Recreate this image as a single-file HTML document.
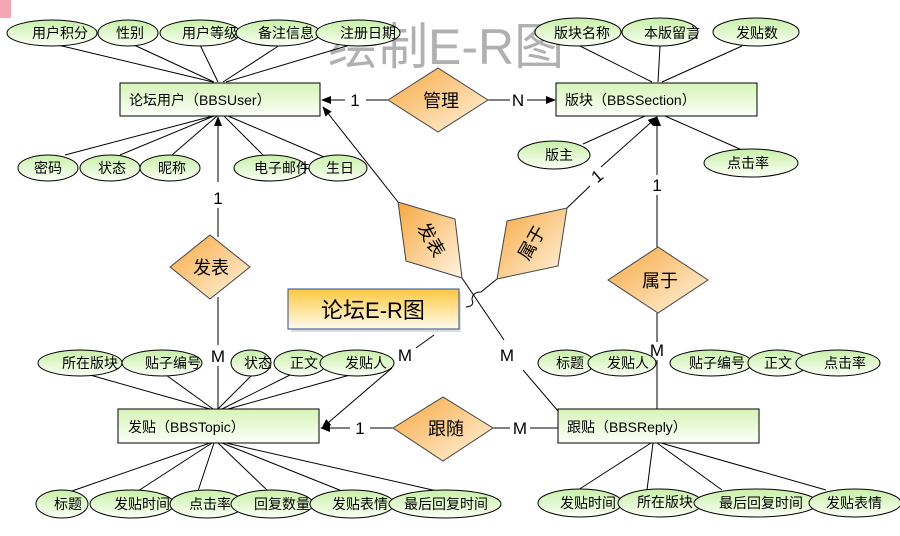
<!DOCTYPE html>
<html><head><meta charset="utf-8"><style>
html,body{margin:0;padding:0;background:#fff;}
svg{display:block;font-family:"Liberation Sans","Noto Sans CJK SC",sans-serif;}
</style></head><body>
<svg width="900" height="536" viewBox="0 0 900 536" xmlns="http://www.w3.org/2000/svg">
<defs>
<linearGradient id="ge" x1="0" y1="0" x2="0" y2="1"><stop offset="0" stop-color="#c8f0a8"/><stop offset="1" stop-color="#fbfff6"/></linearGradient>
<linearGradient id="gr" x1="0" y1="0" x2="0" y2="1"><stop offset="0" stop-color="#d6f4b8"/><stop offset="1" stop-color="#fcfff8"/></linearGradient>
<linearGradient id="gd" x1="0" y1="0" x2="1" y2="1"><stop offset="0" stop-color="#f7a840"/><stop offset="1" stop-color="#fff4e2"/></linearGradient>
<linearGradient id="gt" x1="0" y1="0" x2="0" y2="1"><stop offset="0" stop-color="#fcc840"/><stop offset="1" stop-color="#fffbee"/></linearGradient>
<marker id="ar" markerWidth="10" markerHeight="8" refX="9" refY="4" orient="auto" markerUnits="userSpaceOnUse"><path d="M0,0 L10,4 L0,8 z" fill="#000"/></marker>
</defs>
<rect x="0" y="0" width="11" height="18" fill="#f4a6b4"/>
<text x="328" y="64" font-size="50" fill="#b0b0b0">绘制E-R图</text>

<g stroke="#000" stroke-width="1" fill="none">
<path d="M58,45 L213,82 M134,45 L214,82 M200,45 L218,82 M280,45 L223,82 M350,45 L226,82"/>
<path d="M65,155 L213,116 M120,155 L214,116 M172,155 L217,116 M265,157 L224,116 M324,157 L228,116"/>
<path d="M580,46 L652,82 M660,46 L658,82 M742,46 L662,82"/>
<path d="M583,144 L645,116 M742,150 L665,116"/>
<path d="M90,375 L210,409 M166,375 L213,409 M252,375 L218,409 M290,375 L222,409 M350,375 L228,409"/>
<path d="M72,491 L210,443 M138,491 L212,443 M198,491 L214,443 M268,491 L218,443 M342,491 L222,443 M437,491 L226,443"/>
<path d="M578,490 L651,443 M647,490 L653,443 M722,490 L657,443 M826,490 L661,443"/>
<line x1="388" y1="100" x2="366" y2="100"/><line x1="345" y1="100" x2="322" y2="100" marker-end="url(#ar)"/>
<line x1="488" y1="100" x2="510" y2="100"/><line x1="527" y1="100" x2="555" y2="100" marker-end="url(#ar)"/>
<line x1="218" y1="182" x2="218" y2="117" marker-end="url(#ar)"/>
<line x1="218" y1="208" x2="218" y2="237"/>
<line x1="218" y1="297" x2="218" y2="345"/>
<line x1="218" y1="366" x2="218" y2="409"/>
<line x1="657" y1="175" x2="657" y2="117" marker-end="url(#ar)"/>
<line x1="657" y1="195" x2="657" y2="247"/>
<line x1="657" y1="313" x2="657" y2="342"/>
<line x1="657" y1="360" x2="657" y2="409"/>
<line x1="398" y1="202" x2="323" y2="107" marker-end="url(#ar)"/>
<path d="M462,278 L504,340"/>
<line x1="523" y1="370" x2="558" y2="411"/>
<line x1="567" y1="208" x2="590" y2="186"/>
<line x1="601" y1="167" x2="657" y2="117" marker-end="url(#ar)"/>
<path d="M497,279 L481,292 Q472,292 472,300 Q475,306 466,307"/>
<line x1="434" y1="335" x2="416" y2="348"/>
<line x1="392" y1="368" x2="322" y2="428" marker-end="url(#ar)"/>
<line x1="393" y1="428" x2="370" y2="428"/><line x1="350" y1="428" x2="321" y2="428" marker-end="url(#ar)"/>
<line x1="493" y1="428" x2="510" y2="428"/><line x1="530" y1="428" x2="558" y2="428"/>
</g>

<g font-size="17" text-anchor="middle">
<text x="355" y="106">1</text><text x="518" y="106">N</text>
<text x="218" y="204">1</text><text x="218" y="362">M</text>
<text x="657" y="191">1</text><text x="657" y="356">M</text>
<text x="507" y="361">M</text><text x="405" y="361">M</text>
<text x="360" y="434">1</text><text x="520" y="434">M</text>
<text x="597" y="182" transform="rotate(-40 597 176)">1</text>
</g>

<g stroke="#000" stroke-width="1" fill="url(#gr)">
<rect x="120" y="83" width="200" height="33"/>
<rect x="556" y="83" width="201" height="33"/>
<rect x="118" y="409" width="201" height="34"/>
<rect x="558" y="409" width="201" height="34"/>
</g>
<g font-size="14">
<text x="129" y="105">论坛用户（BBSUser）</text>
<text x="565" y="105">版块（BBSSection）</text>
<text x="128" y="432">发贴（BBSTopic）</text>
<text x="567" y="432">跟贴（BBSReply）</text>
</g>

<g stroke="#444" stroke-width="1" fill="url(#gd)">
<polygon points="388,100 438,68 488,100 438,132"/>
<polygon points="170,267 210,235 250,267 210,299"/>
<polygon points="393,428 443,397 493,428 443,461"/>
<polygon points="608,280 658,247 708,280 658,313"/>
<polygon points="398,202 455,219 462,278 406,261"/>
<polygon points="507,221 567,208 558,266 497,279"/>
</g>
<g font-size="18" text-anchor="middle">
<text x="441" y="107">管理</text>
<text x="211" y="274">发表</text>
<text x="446" y="435">跟随</text>
<text x="660" y="287">属于</text>
<text x="431" y="246" transform="rotate(60 431 240)">发表</text>
<text x="532" y="249" transform="rotate(-60 532 243)">属于</text>
</g>

<rect x="291" y="292" width="170" height="40" fill="#ddd"/>
<rect x="288" y="289" width="171" height="40" fill="url(#gt)" stroke="#2f4f8f" stroke-width="1"/>
<text x="373" y="318" font-size="22" text-anchor="middle">论坛E-R图</text>

<g stroke="#000" stroke-width="1" fill="url(#ge)">
<ellipse cx="52" cy="33" rx="45" ry="13"/>
<ellipse cx="128" cy="33" rx="30" ry="13"/>
<ellipse cx="200" cy="33" rx="40" ry="13"/>
<ellipse cx="278" cy="33" rx="42" ry="13"/>
<ellipse cx="358" cy="33" rx="42" ry="13"/>
<ellipse cx="48" cy="168" rx="30" ry="13"/>
<ellipse cx="110" cy="168" rx="30" ry="13"/>
<ellipse cx="170" cy="168" rx="30" ry="13"/>
<ellipse cx="270" cy="168" rx="36" ry="13"/>
<ellipse cx="338" cy="168" rx="29" ry="13"/>
<ellipse cx="578" cy="32" rx="43" ry="14"/>
<ellipse cx="660" cy="32" rx="38" ry="14"/>
<ellipse cx="756" cy="32" rx="43" ry="14"/>
<ellipse cx="554" cy="155" rx="36" ry="14"/>
<ellipse cx="751" cy="163" rx="47" ry="14"/>
<ellipse cx="80" cy="363" rx="42" ry="13"/>
<ellipse cx="162" cy="363" rx="40" ry="13"/>
<ellipse cx="251" cy="363" rx="20" ry="13"/>
<ellipse cx="300" cy="363" rx="26" ry="13"/>
<ellipse cx="357" cy="363" rx="37" ry="13"/>
<ellipse cx="62" cy="504" rx="26" ry="14"/>
<ellipse cx="132" cy="504" rx="42" ry="14"/>
<ellipse cx="207" cy="504" rx="37" ry="14"/>
<ellipse cx="272" cy="504" rx="41" ry="14"/>
<ellipse cx="352" cy="504" rx="42" ry="14"/>
<ellipse cx="445" cy="504" rx="56" ry="14"/>
<ellipse cx="566" cy="363" rx="28" ry="13"/>
<ellipse cx="622" cy="363" rx="34" ry="13"/>
<ellipse cx="711" cy="363" rx="41" ry="13"/>
<ellipse cx="778" cy="363" rx="30" ry="13"/>
<ellipse cx="838" cy="363" rx="42" ry="13"/>
<ellipse cx="580" cy="503" rx="42" ry="14"/>
<ellipse cx="660" cy="503" rx="42" ry="14"/>
<ellipse cx="756" cy="503" rx="62" ry="14"/>
<ellipse cx="855" cy="503" rx="46" ry="14"/>
</g>
<g font-size="14" text-anchor="middle">
<text x="60" y="38">用户积分</text>
<text x="130" y="38">性别</text>
<text x="210" y="38">用户等级</text>
<text x="286" y="38">备注信息</text>
<text x="368" y="38">注册日期</text>
<text x="48" y="173">密码</text>
<text x="112" y="173">状态</text>
<text x="172" y="173">昵称</text>
<text x="282" y="173">电子邮件</text>
<text x="340" y="173">生日</text>
<text x="582" y="38">版块名称</text>
<text x="672" y="38">本版留言</text>
<text x="757" y="38">发贴数</text>
<text x="559" y="160">版主</text>
<text x="748" y="168">点击率</text>
<text x="90" y="368">所在版块</text>
<text x="173" y="368">贴子编号</text>
<text x="258" y="368">状态</text>
<text x="304" y="368">正文</text>
<text x="366" y="368">发贴人</text>
<text x="68" y="509">标题</text>
<text x="142" y="509">发贴时间</text>
<text x="210" y="509">点击率</text>
<text x="282" y="509">回复数量</text>
<text x="360" y="509">发贴表情</text>
<text x="446" y="509">最后回复时间</text>
<text x="570" y="368">标题</text>
<text x="628" y="368">发贴人</text>
<text x="717" y="368">贴子编号</text>
<text x="778" y="368">正文</text>
<text x="845" y="368">点击率</text>
<text x="588" y="508">发贴时间</text>
<text x="665" y="507">所在版块</text>
<text x="761" y="508">最后回复时间</text>
<text x="854" y="508">发贴表情</text>
</g>
</svg>
</body></html>
